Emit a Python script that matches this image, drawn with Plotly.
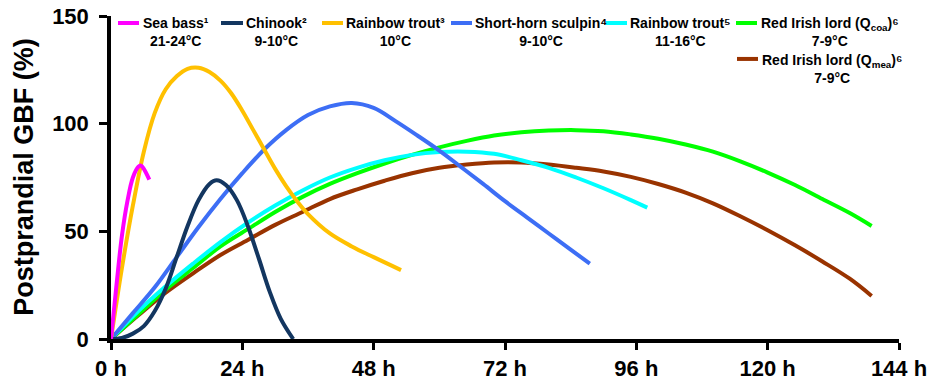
import plotly.graph_objects as go

# ---------------- data ----------------
sea_bass_h = [0, 1, 2, 3, 4, 5, 5.5, 6, 7]
sea_bass_v = [0, 25, 48, 64, 75, 80, 80.5, 79, 74]

chinook_h = [0, 2, 4, 6, 8, 10, 12, 14, 16, 18, 19.3, 21, 23, 25, 27, 29, 31, 33.3]
chinook_v = [0, 0.5, 2.5, 6, 13, 23.5, 38, 52.5, 64.5, 72, 73.7, 71.5, 64.5, 52.5, 37.5, 22, 9.5, 0]

trout3_h = [0, 2, 4, 6, 8, 10, 12, 14, 16, 18, 20, 22, 24, 26, 28, 30, 32, 34, 36, 40, 44, 48, 53]
trout3_v = [0, 33, 62, 87, 105, 116, 122, 125.5, 126, 124, 120, 114, 106, 97, 88, 79, 71, 64, 58, 49, 43, 38, 32]

sculpin_h = [0, 4, 8, 12, 16, 20, 24, 28, 32, 36, 40, 44, 48, 52, 56, 60, 64, 68, 72, 76, 80, 84, 87.5]
sculpin_v = [0, 12, 24, 38, 52, 65, 77, 88, 97, 104, 108, 109.6, 107.3, 101.2, 94.5, 87.5, 79.8, 72, 64, 56.5, 49, 41.5, 35]

trout5_h = [0, 5, 10, 15, 20, 25, 30, 35, 40, 45, 50, 55, 60, 65, 70, 75, 80, 85, 90, 95, 98]
trout5_v = [0, 13, 24.5, 35, 45, 54, 62, 69, 75, 79.5, 83, 85.5, 86.8, 87, 86, 83, 79.5, 75, 70, 64.5, 61]

coa_h = [0, 5, 10, 15, 20, 25, 30, 35, 40, 45, 50, 55, 60, 65, 70, 75, 80, 85, 90, 95, 100,
         105, 110, 115, 120, 125, 130, 135, 139]
coa_v = [0, 11.5, 23, 33, 43, 51, 59, 66, 72, 77, 81.5, 85.5, 89, 92, 94.5, 96, 96.8, 97, 96.5, 95, 93,
         90.3, 87, 82.5, 77.3, 71.5, 65, 58.5, 52.5]

mea_h = [0, 5, 10, 15, 20, 25, 30, 35, 40, 45, 50, 55, 60, 65, 70, 75, 80, 85, 90, 95, 100,
         105, 110, 115, 120, 125, 130, 135, 139]
mea_v = [0, 11, 21.5, 30.5, 39, 46, 53, 59, 65, 69.5, 73.5, 77, 79.5, 81, 82, 82, 81, 79.5, 77.8, 75.3, 72,
         68, 63, 57, 50.5, 43.5, 36, 28, 20]

series_names = ["Sea bass¹", "Chinook²", "Rainbow trout³", "Short-horn sculpin⁴",
                "Rainbow trout⁵", "Red Irish lord (Q<sub>coa</sub>)⁶", "Red Irish lord (Q<sub>mea</sub>)⁶"]
series_temps = ["21-24°C", "9-10°C", "10°C", "9-10°C", "11-16°C", "7-9°C", "7-9°C"]
series_colors = ["#ff00ff", "#133660", "#ffc000", "#3d6ef5", "#00ffff", "#00ff00", "#993300"]

x_ticks = [0, 24, 48, 72, 96, 120, 144]
x_tick_labels = ["0 h", "24 h", "48 h", "72 h", "96 h", "120 h", "144 h"]
y_ticks = [0, 50, 100, 150]

series_x = [sea_bass_h, chinook_h, trout3_h, sculpin_h, trout5_h, coa_h, mea_h]
series_y = [sea_bass_v, chinook_v, trout3_v, sculpin_v, trout5_v, coa_v, mea_v]

# ---------------- figure ----------------
W, H = 933, 381
L, R, T, B = 111, 34, 16, 41.5
font = "Liberation Sans, Arial, sans-serif"

fig = go.Figure()
order = [6, 5, 4, 3, 2, 1, 0]
for i in order:
    fig.add_trace(go.Scatter(x=series_x[i], y=series_y[i], mode="lines",
                             line=dict(color=series_colors[i], width=4, shape="spline", smoothing=1.0),
                             name=series_names[i], showlegend=False, hoverinfo="skip"))


def px(xp):
    return (xp - L) / (W - L - R)


def py(yp):
    return (H - B - yp) / (H - T - B)


# custom legend: (line x0, line x1, line y, text left x, text y centre)
legend_pos = [
    (118, 139, 23, 141, 32),
    (221, 243, 23, 244, 32),
    (322, 343, 23, 344, 32),
    (451, 472, 23, 473, 32),
    (606, 627, 23, 628, 32),
    (736, 757, 23, 759, 32),
    (737, 758, 59, 760, 69),
]
shapes = []
annotations = []
for i, (x0, x1, ly, tx, ty) in enumerate(legend_pos):
    shapes.append(dict(type="line", xref="paper", yref="paper",
                       x0=px(x0), x1=px(x1), y0=py(ly), y1=py(ly),
                       line=dict(color=series_colors[i], width=4)))
    annotations.append(dict(xref="paper", yref="paper", x=px(tx), y=py(ty),
                            xanchor="left", yanchor="middle", align="center", showarrow=False,
                            text="<b>" + series_names[i] + "<br>" + series_temps[i] + "</b>",
                            font=dict(family=font, size=14, color="black")))

annotations.append(dict(xref="paper", yref="paper", x=px(24), y=py(177),
                        xanchor="center", yanchor="middle", showarrow=False, textangle=-90,
                        text="<b>Postprandial GBF (%)</b>",
                        font=dict(family=font, size=27, color="black")))

fig.update_layout(
    template="none",
    width=W, height=H,
    margin=dict(l=L, r=R, t=T, b=B, autoexpand=False),
    plot_bgcolor="white", paper_bgcolor="white",
    shapes=shapes, annotations=annotations,
    xaxis=dict(range=[0, 144], tickvals=x_ticks, ticktext=["<b>" + t + "</b>" for t in x_tick_labels],
               automargin=False,
               showgrid=False, zeroline=False, showline=True, linecolor="black", linewidth=3.5,
               ticks="outside", ticklen=7, tickwidth=3, tickcolor="black",
               tickfont=dict(family=font, size=22, color="black"), ticklabelstandoff=0),
    yaxis=dict(range=[0, 150], tickvals=y_ticks, ticktext=["<b>%d</b>" % v for v in y_ticks],
               automargin=False,
               showgrid=False, zeroline=False, showline=True, linecolor="black", linewidth=3.5,
               ticks="outside", ticklen=8, tickwidth=3, tickcolor="black",
               tickfont=dict(family=font, size=22, color="black"), ticklabelstandoff=6),
)

fig.write_html("out.html", config={"displayModeBar": False},
               post_script="document.body.style.margin='0';document.body.style.overflow='hidden';")
